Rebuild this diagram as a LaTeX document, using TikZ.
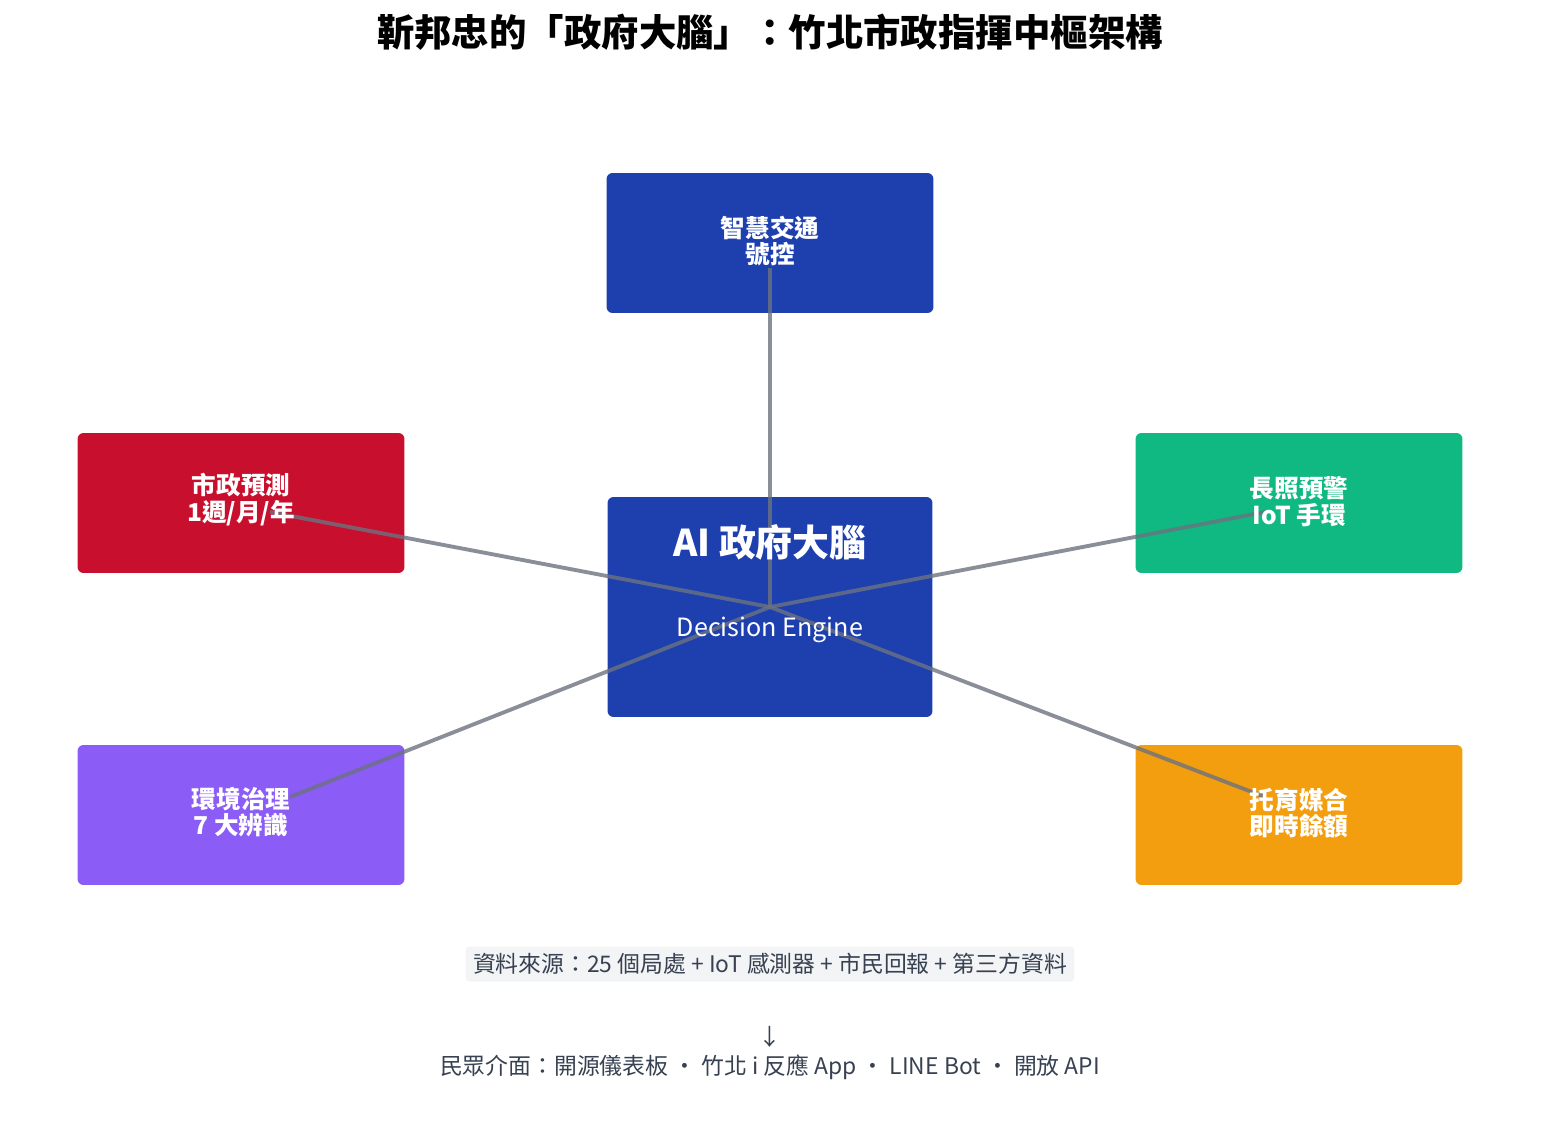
\documentclass[tikz,border=0pt]{standalone}
\usepackage{fontspec}
\setmainfont{Noto Sans CJK TC}
\usetikzlibrary{positioning}
\definecolor{brainblue}{HTML}{1E40AF}
\definecolor{predred}{HTML}{C8102E}
\definecolor{caregreen}{HTML}{10B981}
\definecolor{envpurple}{HTML}{8B5CF6}
\definecolor{kidorange}{HTML}{F39E0F}
\definecolor{linkgray}{HTML}{6B7280}
\definecolor{srcgray}{HTML}{F3F4F6}
\definecolor{txtgray}{HTML}{374151}
\tikzset{
  box/.style={rounded corners=0.12cm, minimum width=6.54cm, minimum height=2.8cm, inner sep=0pt},
  boxtext/.style={text=white, font=\fontsize{14}{15.3}\selectfont\bfseries, align=center},
  link/.style={draw=linkgray, line width=2.2pt, opacity=0.8}
}
\begin{document}
\begin{tikzpicture}[x=0.02cm, y=-0.02cm]
\useasboundingbox (0,0) rectangle (1541,1142);
% boxes
\node[box, fill=brainblue] (traffic) at (770,243) {};
\node[box, fill=brainblue, minimum height=4.4cm, minimum width=6.5cm] (brain) at (770,607) {};
\node[box, fill=predred] (predict) at (241,503) {};
\node[box, fill=caregreen] (care) at (1299,503) {};
\node[box, fill=envpurple] (env) at (241,815) {};
\node[box, fill=kidorange] (kids) at (1299,815) {};
% ends of the links
\coordinate (hub) at (770,607);
\coordinate (trafficend) at (770,268);
\coordinate (predictend) at (270,512);
\coordinate (careend) at (1265,512);
\coordinate (envend) at (290,797);
\coordinate (kidsend) at (1265,797);
\foreach \e in {trafficend,predictend,careend,envend,kidsend}
  \draw[link] (hub) -- (\e);
% labels
\node[boxtext] (trafficlbl) at (770,241) {智慧交通\\號控};
\node[boxtext] (predictlbl) at (241,500) {市政預測\\1週/月/年};
\node[boxtext] (carelbl) at (1299,502) {長照預警\\IoT 手環};
\node[boxtext] (envlbl) at (241,812) {環境治理\\7 大辨識};
\node[boxtext] (kidslbl) at (1299,813) {托育媒合\\即時餘額};
\node[text=white, font=\fontsize{21}{21}\selectfont\bfseries] (braintitle) at (770,542) {AI 政府大腦};
\node[text=white, font=\fontsize{14.3}{14.3}\selectfont] (brainsub) at (770,630) {Decision Engine};
% title and footer
\node[font=\fontsize{21.3}{21.3}\selectfont\bfseries] (title) at (770,32) {靳邦忠的「政府大腦」：竹北市政指揮中樞架構};
\node[fill=srcgray, rounded corners=0.08cm, text=txtgray, font=\fontsize{13}{13}\selectfont, minimum width=12.18cm, minimum height=0.7cm] (source) at (770,964) {資料來源：25 個局處 + IoT 感測器 + 市民回報 + 第三方資料};
\node[text=txtgray, font=\fontsize{13}{13}\selectfont] (down) at (770,1037) {↓};
\node[text=txtgray, font=\fontsize{13}{13}\selectfont] (ui) at (770,1067) {民眾介面：開源儀表板 ・ 竹北 i 反應 App ・ LINE Bot ・ 開放 API};
\end{tikzpicture}
\end{document}
